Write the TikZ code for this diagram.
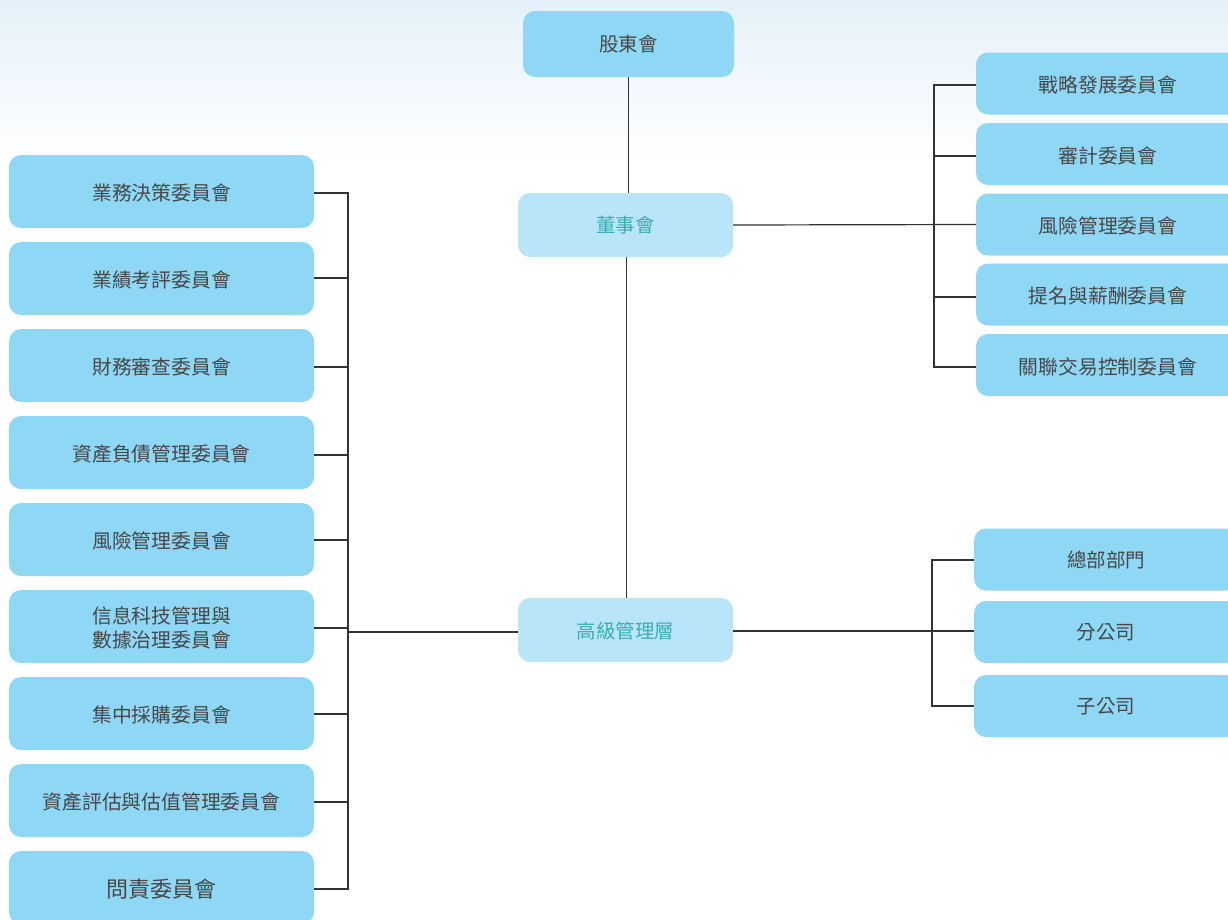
\documentclass[tikz,border=0pt]{standalone}
\usepackage{fontspec}
\setmainfont{Noto Sans CJK TC}
\definecolor{boxblue}{HTML}{8ED8F5}
\definecolor{boxlight}{HTML}{B8E5F8}
\definecolor{txtgray}{HTML}{474747}
\definecolor{txtteal}{HTML}{3AAEB6}
\definecolor{linegray}{HTML}{333333}
\definecolor{bgblue}{HTML}{E4F1FA}
\tikzset{
  box/.style={fill=boxblue, draw=none, rounded corners=12pt, text=txtgray, font=\fontsize{19.8}{23.3}\selectfont, inner sep=0pt, text height=21pt, text depth=2.5pt},
  mainbox/.style={fill=boxlight, draw=none, rounded corners=12pt, text=txtteal, font=\fontsize{19.5}{23}\selectfont, inner sep=0pt, minimum width=215pt, minimum height=64pt, text height=17.5pt, text depth=2.5pt},
  topbox/.style={box, minimum width=211pt, minimum height=66pt, font=\fontsize{19.5}{23}\selectfont, text height=17.5pt},
  lbox/.style={box, minimum width=305pt, minimum height=73pt},
  rbox/.style={box, minimum width=264pt, minimum height=62pt},
  ubox/.style={box, minimum width=264pt, minimum height=62pt, font=\fontsize{19.5}{23}\selectfont, text height=18pt},
  conn/.style={draw=linegray, line width=1.2pt}
}
\begin{document}
\begin{tikzpicture}[x=1pt,y=-1pt]
\useasboundingbox (0,0) rectangle (1228,919);
\clip (0,0) rectangle (1228,919);
\fill[white] (0,0) rectangle (1228,919);
\shade[top color=bgblue, bottom color=white] (0,0) rectangle (1228,160);

% top
\node[topbox] (sh) at (628.5,44) {股東會};
\node[mainbox] (bd) at (625.5,225) {董事會};
\node[mainbox, text height=18.5pt] (mg) at (625.5,630) {高級管理層};

% right committees
\node[rbox] (r1) at (1108,83.5) {戰略發展委員會};
\node[rbox] (r2) at (1108,154) {審計委員會};
\node[rbox] (r3) at (1108,224.5) {風險管理委員會};
\node[rbox] (r4) at (1108,294.5) {提名與薪酬委員會};
\node[rbox] (r5) at (1108,365) {關聯交易控制委員會};

% right org units
\node[ubox] (u1) at (1106,559.5) {總部部門};
\node[ubox] (u2) at (1106,632) {分公司};
\node[ubox] (u3) at (1106,706) {子公司};

% left committees
\node[lbox] (l1) at (161.5,191.5) {業務決策委員會};
\node[lbox] (l2) at (161.5,278.5) {業績考評委員會};
\node[lbox] (l3) at (161.5,365.5) {財務審查委員會};
\node[lbox] (l4) at (161.5,452.5) {資產負債管理委員會};
\node[lbox] (l5) at (161.5,539.5) {風險管理委員會};
\node[lbox, text height=43.5pt, text depth=2.5pt] (l6) at (161.5,626.5) {\vbox{\hbox{信息科技管理與}\hbox{數據治理委員會}}};
\node[lbox] (l7) at (161.5,713.5) {集中採購委員會};
\node[lbox] (l8) at (161.5,800.5) {資產評估與估值管理委員會};
\node[lbox, font=\fontsize{22}{26}\selectfont, text height=22.3pt, text depth=2.5pt] (l9) at (161.5,887.5) {問責委員會};

% buses
\coordinate (rbus) at (934,225);
\coordinate (ubus) at (932,631);
\coordinate (lbus) at (348,632);

% vertical spine
\draw[conn] (sh.south) -- (sh.south |- bd.north);
\draw[conn] ([xshift=1pt]bd.south) -- ([xshift=1pt]bd.south |- mg.north);

% board to committees
\draw[conn] (bd.east) -- (r3.west);
\draw[conn] (r1.west |- 0,85) -- (rbus |- 0,85) -- (rbus |- 0,367) -- (r5.west |- 0,367);
\draw[conn] (r2.west |- 0,156) -- (rbus |- 0,156);
\draw[conn] (r4.west |- 0,297) -- (rbus |- 0,297);

% management to units
\draw[conn] (mg.east |- ubus) -- (u2.west |- ubus);
\draw[conn] (u1.west |- 0,560) -- (ubus |- 0,560) -- (ubus |- 0,706) -- (u3.west |- 0,706);

% management to left committees
\draw[conn] (mg.west |- lbus) -- (lbus);
\draw[conn] (l1.east |- 0,193) -- (lbus |- 0,193) -- (lbus |- 0,889) -- (l9.east |- 0,889);
\draw[conn] (l2.east |- 0,278) -- (lbus |- 0,278);
\draw[conn] (l3.east |- 0,367) -- (lbus |- 0,367);
\draw[conn] (l4.east |- 0,455) -- (lbus |- 0,455);
\draw[conn] (l5.east |- 0,540) -- (lbus |- 0,540);
\draw[conn] (l6.east |- 0,628) -- (lbus |- 0,628);
\draw[conn] (l7.east |- 0,714) -- (lbus |- 0,714);
\draw[conn] (l8.east |- 0,802) -- (lbus |- 0,802);
\end{tikzpicture}
\end{document}
